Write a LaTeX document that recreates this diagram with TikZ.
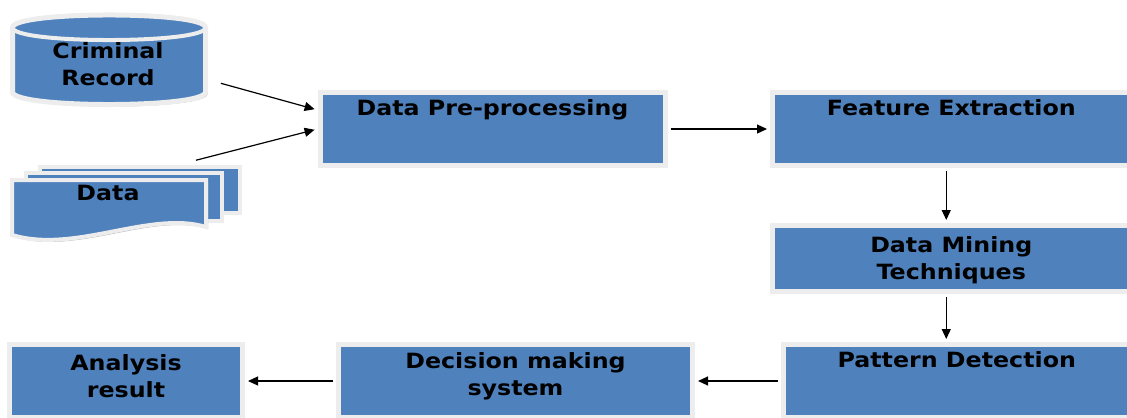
\documentclass[tikz,border=0pt]{standalone}
\usepackage{fontspec}
\newfontfamily\boxfont[FakeStretch=1.13]{DejaVu Sans}
\usetikzlibrary{arrows.meta, shadows}
\definecolor{boxblue}{RGB}{79,129,189}

\begin{document}
\begin{tikzpicture}[
        % Define styles for consistency
        x=0.5pt, y=-0.5pt,
        box/.style={rectangle, fill=boxblue, draw=black!7, line width=2.5pt, inner sep=0pt,
            drop shadow={shadow xshift=1.2pt, shadow yshift=-1.2pt, fill=black!30, opacity=1}},
        sheet/.style={fill=boxblue, draw=black!7, line width=2pt,
            drop shadow={shadow xshift=1pt, shadow yshift=-1pt, fill=black!30, opacity=1}},
        txt/.style={font=\boxfont\bfseries\fontsize{10.5}{13.5}\selectfont, inner sep=0pt,
            align=center},
        arr/.style={-{Triangle[length=5pt, width=4.5pt]}, line width=0.6pt,
            shorten >=1.5pt, shorten <=1.5pt}
    ]
        \useasboundingbox (0,0) rectangle (1127,417);

        % --- Sources ---
        % Cylinder (database)
        \draw[sheet, line width=2.5pt] (12.5,27.5) -- (12.5,92)
            .. controls (12.5,108.7) and (205.5,108.7) .. (205.5,92) -- (205.5,27.5)
            .. controls (205.5,10.8) and (12.5,10.8) .. (12.5,27.5) -- cycle;
        \draw[draw=black!7, line width=2pt] (205.5,27.5)
            .. controls (205.5,44.2) and (12.5,44.2) .. (12.5,27.5);
        \node[txt] (crim) at (108,64.5) {Criminal\\Record};

        % Stack of documents
        \node[rectangle, sheet, minimum width=100pt, minimum height=23pt, inner sep=0pt]
            (databack) at (140,190) {};
        \draw[sheet] (26,173) rectangle (222,221);
        \draw[sheet] (12,180) -- (206,180) -- (206,227)
            .. controls (150,210) and (75,254) .. (12,235) -- cycle;
        \node[txt] (data) at (108,193) {Data};

        % --- Process boxes ---
        \node[box, minimum width=172.5pt, minimum height=36.5pt] (pre) at (492.5,129) {};
        \node[txt] (preT) at ([yshift=-10pt]pre.north) {Data Pre-processing};

        \node[box, minimum width=178.75pt, minimum height=36.5pt] (feat) at (951.25,129) {};
        \node[txt] (featT) at ([yshift=-9pt]feat.north) {Feature Extraction};

        \node[box, minimum width=178.75pt, minimum height=33pt] (mine) at (951.25,258.5) {};
        \node[txt] (mineT) at ([yshift=-1pt]mine.center) {Data Mining\\Techniques};

        \node[box, minimum width=173.25pt, minimum height=36.5pt] (pat) at (956.75,381) {};
        \node[txt] (patT) at ([yshift=-9pt]pat.north) {Pattern Detection};

        \node[box, minimum width=177pt, minimum height=36.5pt] (dec) at (515.5,381) {};
        \node[txt] (decT) at ([yshift=2.5pt]dec.center) {Decision making\\system};
        \node[box, minimum width=116.5pt, minimum height=36.5pt] (ana) at (126,381) {};
        \node[txt] (anaT) at ([yshift=2.5pt]ana.center) {Analysis\\result};

        % --- Connectors ---
        \draw[arr] ([xshift=55pt,yshift=-9pt]crim.center) -- ([yshift=9.5pt]pre.west);
        \draw[arr] ([xshift=26.5pt,yshift=2pt]databack.north) -- (pre.west);
        \draw[arr] (pre.east) -- (feat.west);
        \draw[arr] ([xshift=-2.5pt]feat.south) -- ([xshift=-2.5pt]mine.north);
        \draw[arr] ([xshift=-2.5pt]mine.south) -- ([xshift=-2.5pt]mine.south |- pat.north);
        \draw[arr] (pat.west) -- (dec.east);
        \draw[arr] (dec.west) -- (ana.east);

    \end{tikzpicture}
\end{document}
